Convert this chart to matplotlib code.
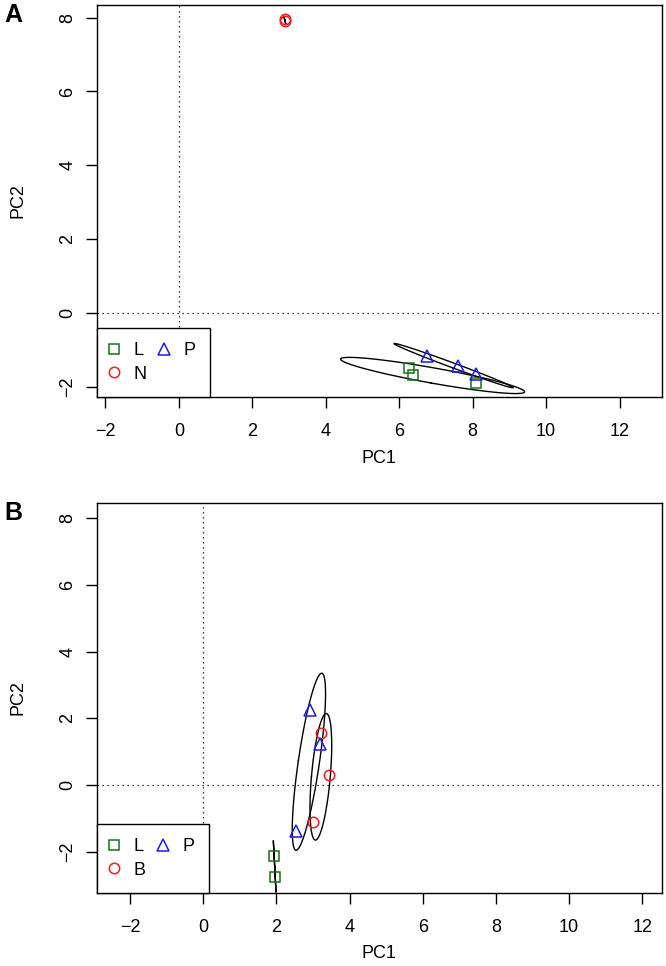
import numpy as np
import matplotlib
matplotlib.use("Agg")
import matplotlib.pyplot as plt

plt.rcParams['font.family'] = ['Liberation Sans', 'DejaVu Sans']

# =============================================================================
# DATA  (PC scores)
# =============================================================================

# panel A
A_L_X = [6.27, 6.37, 8.09]
A_L_Y = [-1.49, -1.68, -1.89]
A_N_X = [2.88, 2.89]
A_N_Y = [7.95, 7.91]
A_P_X = [6.77, 7.60, 8.08]
A_P_Y = [-1.17, -1.43, -1.66]

# panel B
B_L_X = [1.94, 1.97]
B_L_Y = [-2.12, -2.75]
B_B_X = [3.21, 3.43, 3.01]
B_B_Y = [1.57, 0.29, -1.11]
B_P_X = [2.93, 3.19, 2.55]
B_P_Y = [2.26, 1.22, -1.38]

X_TICKS = [-2, 0, 2, 4, 6, 8, 10, 12]
Y_TICKS = [-2, 0, 2, 4, 6, 8]

# ellipse confidence level per panel
LEVEL_A = 0.75
LEVEL_B = 0.50

GREEN, RED, BLUE = "#127312", "#ee1c1c", "#1a1aee"
STYLE = {
    "L": dict(marker="s", color=GREEN, ms=7.0),
    "N": dict(marker="o", color=RED, ms=7.5),
    "B": dict(marker="o", color=RED, ms=7.5),
    "P": dict(marker="^", color=BLUE, ms=8.5),
}


def f_quantile_2(level, d2):
    # quantile of F(2, d2), closed form
    return d2 / 2.0 * ((1.0 - level) ** (-2.0 / d2) - 1.0)


def data_ellipse(x, y, level, n_seg=240):
    x, y = np.asarray(x, float), np.asarray(y, float)
    n = len(x)
    cov = np.cov(np.vstack([x, y]))
    r = np.sqrt(2 * f_quantile_2(level, n - 1))
    w, v = np.linalg.eigh(cov)
    w = np.clip(w, 0, None)
    t = np.linspace(0, 2 * np.pi, n_seg)
    circ = np.vstack([np.cos(t), np.sin(t)])
    pts = v @ np.diag(np.sqrt(w)) @ circ * r
    return x.mean() + pts[0], y.mean() + pts[1]


def draw_panel(ax, groups, level, xlim, ylim):
    for name, (gx, gy) in groups.items():
        ex, ey = data_ellipse(gx, gy, level)
        ax.plot(ex, ey, color="black", lw=1.0)
    for name, (gx, gy) in groups.items():
        st = STYLE[name]
        ax.plot(gx, gy, linestyle="none", marker=st["marker"], ms=st["ms"],
                mfc="none", mec=st["color"], mew=1.1, label=name)

    ax.axhline(0, color="black", lw=0.9, linestyle=(0, (1, 3)))
    ax.axvline(0, color="black", lw=0.9, linestyle=(0, (1, 3)))

    ax.set_xlim(*xlim)
    ax.set_ylim(*ylim)
    ax.set_xticks(X_TICKS)
    ax.set_yticks(Y_TICKS)
    ax.tick_params(axis="both", direction="out", length=8, width=1,
                   labelsize=13, colors="black")
    ax.tick_params(axis="x", pad=11)
    ax.tick_params(axis="y", pad=7, labelrotation=90)
    for lab in ax.get_yticklabels():
        lab.set_va("center")
    for sp in ax.spines.values():
        sp.set_linewidth(1.0)

    ax.set_xlabel("PC1", fontsize=13, va="center")
    ax.set_ylabel("PC2", fontsize=13, va="center")
    ax.xaxis.set_label_coords(0.5, -0.156)
    ax.yaxis.set_label_coords(-0.140, 0.5)

    leg = ax.legend(ncol=2, loc="lower left", bbox_to_anchor=(0, 0),
                    borderaxespad=0, fontsize=13, fancybox=False,
                    framealpha=1, edgecolor="black", handlelength=0.3,
                    handletextpad=0.9, columnspacing=0.85,
                    borderpad=0.8, labelspacing=0.35)
    leg.get_frame().set_linewidth(1.0)
    leg.set_zorder(5)


fig = plt.figure(figsize=(6.66, 9.66), dpi=100)

ax_a = fig.add_axes([0.1456, 0.589, 0.848, 0.4058])
draw_panel(ax_a,
           {"L": (A_L_X, A_L_Y), "N": (A_N_X, A_N_Y), "P": (A_P_X, A_P_Y)},
           LEVEL_A, (-2.23, 13.15), (-2.27, 8.34))

ax_b = fig.add_axes([0.1456, 0.0756, 0.848, 0.4037])
draw_panel(ax_b,
           {"L": (B_L_X, B_L_Y), "B": (B_B_X, B_B_Y), "P": (B_P_X, B_P_Y)},
           LEVEL_B, (-2.90, 12.53), (-3.23, 8.45))

fig.text(0.0206, 0.9845, "A", fontsize=18, fontweight="bold", ha="center", va="center")
fig.text(0.0206, 0.469, "B", fontsize=18, fontweight="bold", ha="center", va="center")

fig.savefig("out.png", dpi=100)
